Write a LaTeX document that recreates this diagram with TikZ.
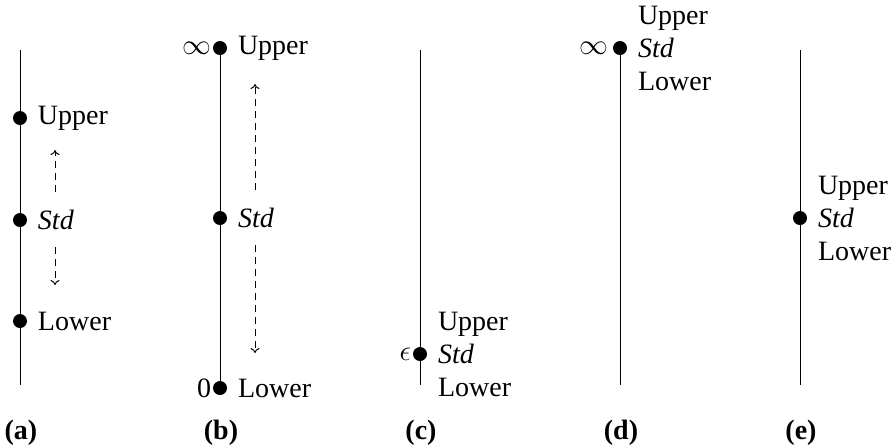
\documentclass[tikz,border=0pt]{standalone}
\usepackage{fontspec}
\setmainfont{Liberation Serif}
\usetikzlibrary{positioning, arrows.meta}
\tikzset{
  dot/.style={circle, fill=black, inner sep=0pt, minimum size=7pt},
  lbl/.style={inner sep=1pt, align=left, font=\fontsize{14}{16.5}\selectfont},
  sub/.style={font=\fontsize{14}{16.5}\selectfont\bfseries},
  move/.style={dashed, dash pattern=on 3.5pt off 2.5pt, -{To[length=2.5pt,width=4.5pt]}, line width=0.5pt}
}
\begin{document}
\begin{tikzpicture}[x=0.5pt, y=-0.5pt, line width=0.5pt]
    \useasboundingbox (0,0) rectangle (894,447);
    % (a)
    \draw (20,50) coordinate (atop) -- (20,385) coordinate (abot);
    \node[dot] (aup) at (20,118) {};
    \node[dot] (astd) at (20,220) {};
    \node[dot] (alow) at (20,321) {};
    \node[lbl, right=4pt of aup] {Upper};
    \node[lbl, right=4pt of astd] {\itshape Std};
    \node[lbl, right=4pt of alow] {Lower};
    \coordinate (a1) at (55,192);
    \coordinate (a2) at (55,150);
    \coordinate (a3) at (55,247);
    \coordinate (a4) at (55,285);
    \draw[move] (a1) -- (a2);
    \draw[move] (a3) -- (a4);
    \node[sub] (capa) at (21,433) {(a)};
    % (b)
    \node[dot] (bup) at (220,48) {};
    \node[dot] (bstd) at (220,218) {};
    \node[dot] (blow) at (220,388) {};
    \draw (bup.center) -- (blow.center);
    \node[lbl, right=4pt of bup] {Upper};
    \node[lbl, right=4pt of bstd] {\itshape Std};
    \node[lbl, right=4pt of blow] {Lower};
    \node[lbl, left=-0.5pt of bup] {$\infty$};
    \node[lbl, left=-0.5pt of blow] {0};
    \coordinate (b1) at (255,190);
    \coordinate (b2) at (255,84);
    \coordinate (b3) at (255,245);
    \coordinate (b4) at (255,353);
    \draw[move] (b1) -- (b2);
    \draw[move] (b3) -- (b4);
    \node[sub] (capb) at (221,433) {(b)};
    % (c)
    \draw (420,50) coordinate (ctop) -- (420,385) coordinate (cbot);
    \node[dot] (cstd) at (420,354) {};
    \node[lbl, right=4pt of cstd] {Upper\\\itshape Std\\Lower};
    \node[lbl, left=-0.5pt of cstd] {$\epsilon$};
    \node[sub] (capc) at (421,433) {(c)};
    % (d)
    \node[dot] (dstd) at (620,48) {};
    \coordinate (dbot) at (620,385);
    \draw (dstd.center) -- (dbot);
    \node[lbl, right=4pt of dstd] {Upper\\\itshape Std\\Lower};
    \node[lbl, left=1pt of dstd] {$\infty$};
    \node[sub] (capd) at (621,433) {(d)};
    % (e)
    \draw (800,50) coordinate (etop) -- (800,385) coordinate (ebot);
    \node[dot] (estd) at (800,218) {};
    \node[lbl, right=4pt of estd] {Upper\\\itshape Std\\Lower};
    \node[sub] (cape) at (801,433) {(e)};
\end{tikzpicture}
\end{document}
